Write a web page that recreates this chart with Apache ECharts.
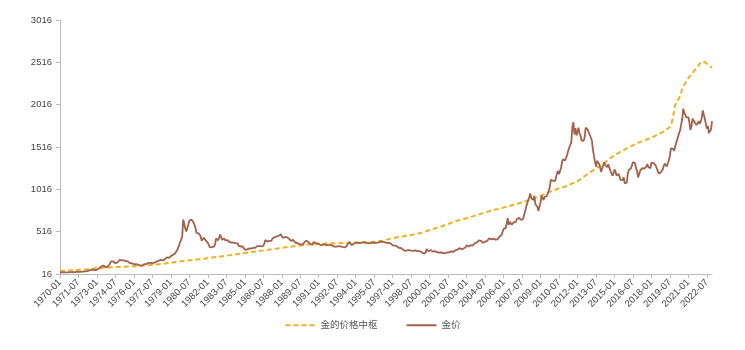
<!DOCTYPE html>
<html>
<head>
<meta charset="utf-8">
<script src="https://cdn.jsdelivr.net/npm/echarts@6/dist/echarts.min.js"></script>
<style>html,body{margin:0;padding:0;background:#fff}#c{width:745px;height:350px}</style>
</head>
<body>
<div id="c"></div>
<script>
// Monthly categories 1970-01 .. 2022-12
const startYear = 1970, endYear = 2022;
const categories = [];
for (let y = startYear; y <= endYear; y++) {
  for (let m = 1; m <= 12; m++) categories.push(y + '-' + (m < 10 ? '0' + m : m));
}
const yTicks = [16, 516, 1016, 1516, 2016, 2516, 3016];
const seriesNames = ['金的价格中枢', '金价'];

// 金价 (monthly)
const goldPrice = [
35,35,35,36,36,35,35,35,36,38,37,37,
38,39,39,39,41,40,41,43,42,43,43,44,
46,48,48,49,55,62,66,67,66,65,63,64,
65,74,84,91,102,123,117,107,103,100,95,107,
129,150,168,172,163,154,143,155,152,159,182,184,
176,180,178,170,167,164,165,163,144,143,143,139,
131,131,133,128,126,126,117,109,115,117,131,134,
132,136,148,149,147,141,143,145,150,159,162,161,
173,178,184,175,176,184,189,206,213,227,206,208,
227,246,242,239,258,279,295,301,355,392,392,455,
660,655,554,517,514,601,644,627,660,655,624,595,
557,501,500,496,480,461,409,410,444,438,413,410,
384,374,330,350,334,315,339,364,436,422,414,445,
481,492,420,433,437,413,422,416,412,394,382,388,
370,386,395,381,377,378,348,348,341,340,341,320,
303,299,304,325,316,316,317,330,324,325,325,323,
346,339,346,340,343,343,349,376,418,424,399,391,
408,401,409,438,460,449,451,460,460,466,467,486,
477,443,444,452,452,451,437,433,413,407,420,419,
404,388,390,384,371,368,375,365,362,367,394,410,
410,417,393,374,369,352,363,395,389,381,382,378,
384,364,363,358,357,367,368,357,349,359,360,361,
355,354,344,339,337,341,353,343,345,344,335,335,
329,329,330,342,367,371,392,380,355,364,374,383,
387,382,384,377,381,386,386,380,392,390,384,379,
379,376,381,391,385,388,386,384,383,383,386,387,
400,405,396,393,392,386,384,388,383,381,378,370,
355,347,352,345,344,341,324,324,323,325,306,289,
289,298,296,308,299,292,293,284,288,296,294,292,
287,287,286,283,276,261,256,257,265,311,293,283,
285,301,286,280,275,286,282,275,274,270,266,272,
266,262,263,261,272,270,268,272,283,283,276,276,
282,296,294,303,315,321,313,310,319,317,319,333,
357,359,341,328,356,356,351,360,379,379,390,408,
414,405,407,403,384,392,398,401,405,421,439,442,
424,423,434,429,422,431,425,438,456,470,477,510,
550,555,557,611,677,596,634,633,598,586,628,630,
631,665,655,679,667,656,665,665,713,755,806,803,
890,922,968,910,889,890,940,839,830,807,761,816,
859,943,924,890,929,946,934,949,997,1043,1127,1135,
1118,1095,1113,1149,1205,1233,1193,1216,1271,1342,1370,1391,
1356,1373,1424,1474,1510,1529,1573,1756,1810,1665,1739,1652,
1656,1743,1674,1650,1591,1599,1590,1630,1745,1760,1722,1685,
1672,1628,1593,1488,1414,1343,1286,1352,1349,1317,1276,1222,
1244,1300,1336,1299,1288,1279,1311,1295,1237,1223,1176,1201,
1251,1227,1179,1199,1199,1182,1128,1118,1125,1159,1086,1068,
1098,1200,1245,1242,1261,1276,1337,1340,1327,1267,1238,1157,
1192,1234,1231,1267,1246,1260,1237,1283,1314,1280,1282,1265,
1331,1331,1325,1335,1304,1282,1238,1202,1198,1215,1221,1250,
1292,1320,1301,1286,1284,1359,1413,1500,1511,1495,1470,1479,
1561,1597,1592,1683,1716,1732,1847,1969,1922,1900,1866,1858,
1867,1808,1718,1760,1850,1835,1808,1785,1775,1777,1821,1790,
1816,1856,1948,1937,1849,1837,1733,1765,1680,1665,1725,1822
];

// 金的价格中枢 (monthly)
const goldCenter = [
51,52,52,53,54,54,55,56,57,57,58,59,
60,61,61,62,63,64,65,65,66,67,68,69,
70,71,72,73,75,76,78,79,80,82,83,85,
86,86,87,88,88,89,90,90,91,92,92,93,
94,94,95,96,96,97,97,98,99,99,100,100,
101,101,102,102,103,103,104,104,105,105,106,106,
107,108,108,109,110,111,112,112,113,114,115,116,
117,118,119,120,121,122,123,124,125,127,128,129,
130,131,133,134,136,137,139,141,142,144,146,148,
150,151,153,155,157,158,160,162,163,165,167,168,
170,171,172,174,175,176,177,178,179,181,182,184,
185,187,188,190,191,193,194,196,197,199,200,202,
204,205,207,208,210,211,213,214,216,217,219,220,
222,224,225,227,229,231,232,234,236,238,239,241,
243,245,247,248,250,252,254,255,257,259,261,262,
264,266,268,269,271,273,275,276,278,280,282,283,
285,287,288,290,292,293,295,297,298,300,302,303,
305,307,308,310,312,313,315,317,318,320,322,323,
325,327,328,330,332,333,335,337,338,340,342,343,
345,346,348,349,351,352,353,355,356,358,359,361,
362,363,364,364,365,366,367,368,369,369,370,371,
372,372,373,373,374,374,375,375,376,376,377,377,
378,378,379,379,379,380,380,381,381,381,382,382,
383,383,384,384,384,385,385,386,386,386,387,387,
388,388,388,389,389,389,390,390,390,391,391,391,
392,392,393,393,394,395,396,397,398,400,401,403,
405,407,410,413,416,419,422,425,428,431,434,437,
440,442,444,446,448,450,452,454,456,458,460,462,
465,467,469,471,473,475,477,479,481,483,485,487,
490,493,497,500,504,508,512,515,519,523,527,531,
535,539,543,546,550,554,558,561,565,569,572,576,
580,585,589,594,598,603,607,612,617,621,626,630,
635,638,641,645,648,651,655,658,661,665,668,671,
675,679,682,686,690,694,697,701,705,709,712,716,
720,724,727,731,735,739,742,746,750,754,757,761,
765,768,771,774,777,780,782,785,788,791,794,797,
800,803,807,810,813,817,820,823,827,830,833,837,
840,844,848,851,855,859,862,866,870,874,877,881,
885,890,894,899,903,908,912,917,921,926,931,935,
940,945,950,955,960,965,970,975,980,985,990,995,
1000,1004,1008,1012,1017,1021,1025,1029,1033,1037,1042,1046,
1050,1055,1060,1065,1070,1075,1080,1085,1090,1095,1100,1105,
1110,1119,1128,1136,1145,1154,1163,1171,1180,1189,1198,1206,
1215,1223,1231,1239,1247,1255,1263,1271,1279,1287,1295,1302,
1310,1319,1328,1337,1346,1356,1365,1374,1383,1392,1401,1411,
1420,1427,1433,1440,1447,1453,1460,1467,1473,1480,1487,1493,
1500,1506,1512,1518,1523,1529,1535,1541,1547,1552,1558,1564,
1570,1575,1579,1584,1588,1593,1597,1602,1607,1611,1616,1620,
1625,1631,1637,1643,1650,1656,1662,1668,1675,1681,1687,1693,
1700,1710,1718,1727,1735,1742,1752,1775,1810,1870,1935,2011,
2030,2047,2070,2094,2125,2160,2195,2225,2250,2272,2290,2306,
2330,2345,2360,2375,2389,2405,2420,2435,2450,2465,2480,2500,
2515,2519,2525,2530,2520,2510,2500,2490,2482,2475,2460,2455
];

const chart = echarts.init(document.getElementById('c'), null, {renderer: 'canvas'});
const font = '"Liberation Sans", Arial, "Noto Sans CJK SC", sans-serif';
chart.setOption({
  animation: false,
  backgroundColor: '#fff',
  textStyle: {fontFamily: font},
  grid: {left: 60, right: 33, top: 20, bottom: 76, containLabel: false},
  legend: {
    data: seriesNames,
    bottom: 15,
    left: 'center',
    itemWidth: 30,
    itemHeight: 10,
    itemGap: 28,
    itemStyle: {opacity: 0},
    textStyle: {fontSize: 9.5, color: '#555', fontFamily: font}
  },
  xAxis: {
    type: 'category',
    data: categories,
    boundaryGap: false,
    axisLine: {lineStyle: {color: '#bbb'}},
    axisTick: {interval: 17, lineStyle: {color: '#bbb'}, length: 4},
    axisLabel: {interval: 17, rotate: 45, fontSize: 9.5, color: '#444', margin: 7},
    splitLine: {show: false}
  },
  yAxis: {
    type: 'value',
    min: 16,
    max: 3016,
    axisLine: {show: true, lineStyle: {color: '#bbb'}},
    axisTick: {show: true, customValues: yTicks, lineStyle: {color: '#bbb'}, length: 4},
    axisLabel: {customValues: yTicks, fontSize: 9.5, color: '#444', margin: 8,
      formatter: function (v) { return String(v); }},
    splitLine: {show: false}
  },
  series: [
    {
      name: seriesNames[0],
      type: 'line',
      data: goldCenter,
      symbol: 'none',
      lineStyle: {color: '#f0b020', width: 2, type: [5, 3]},
      itemStyle: {color: '#f0b020'},
      z: 2
    },
    {
      name: seriesNames[1],
      type: 'line',
      data: goldPrice,
      symbol: 'none',
      lineStyle: {color: '#a3614b', width: 1.8},
      itemStyle: {color: '#a3614b'},
      z: 3
    }
  ]
});
</script>
</body>
</html>
